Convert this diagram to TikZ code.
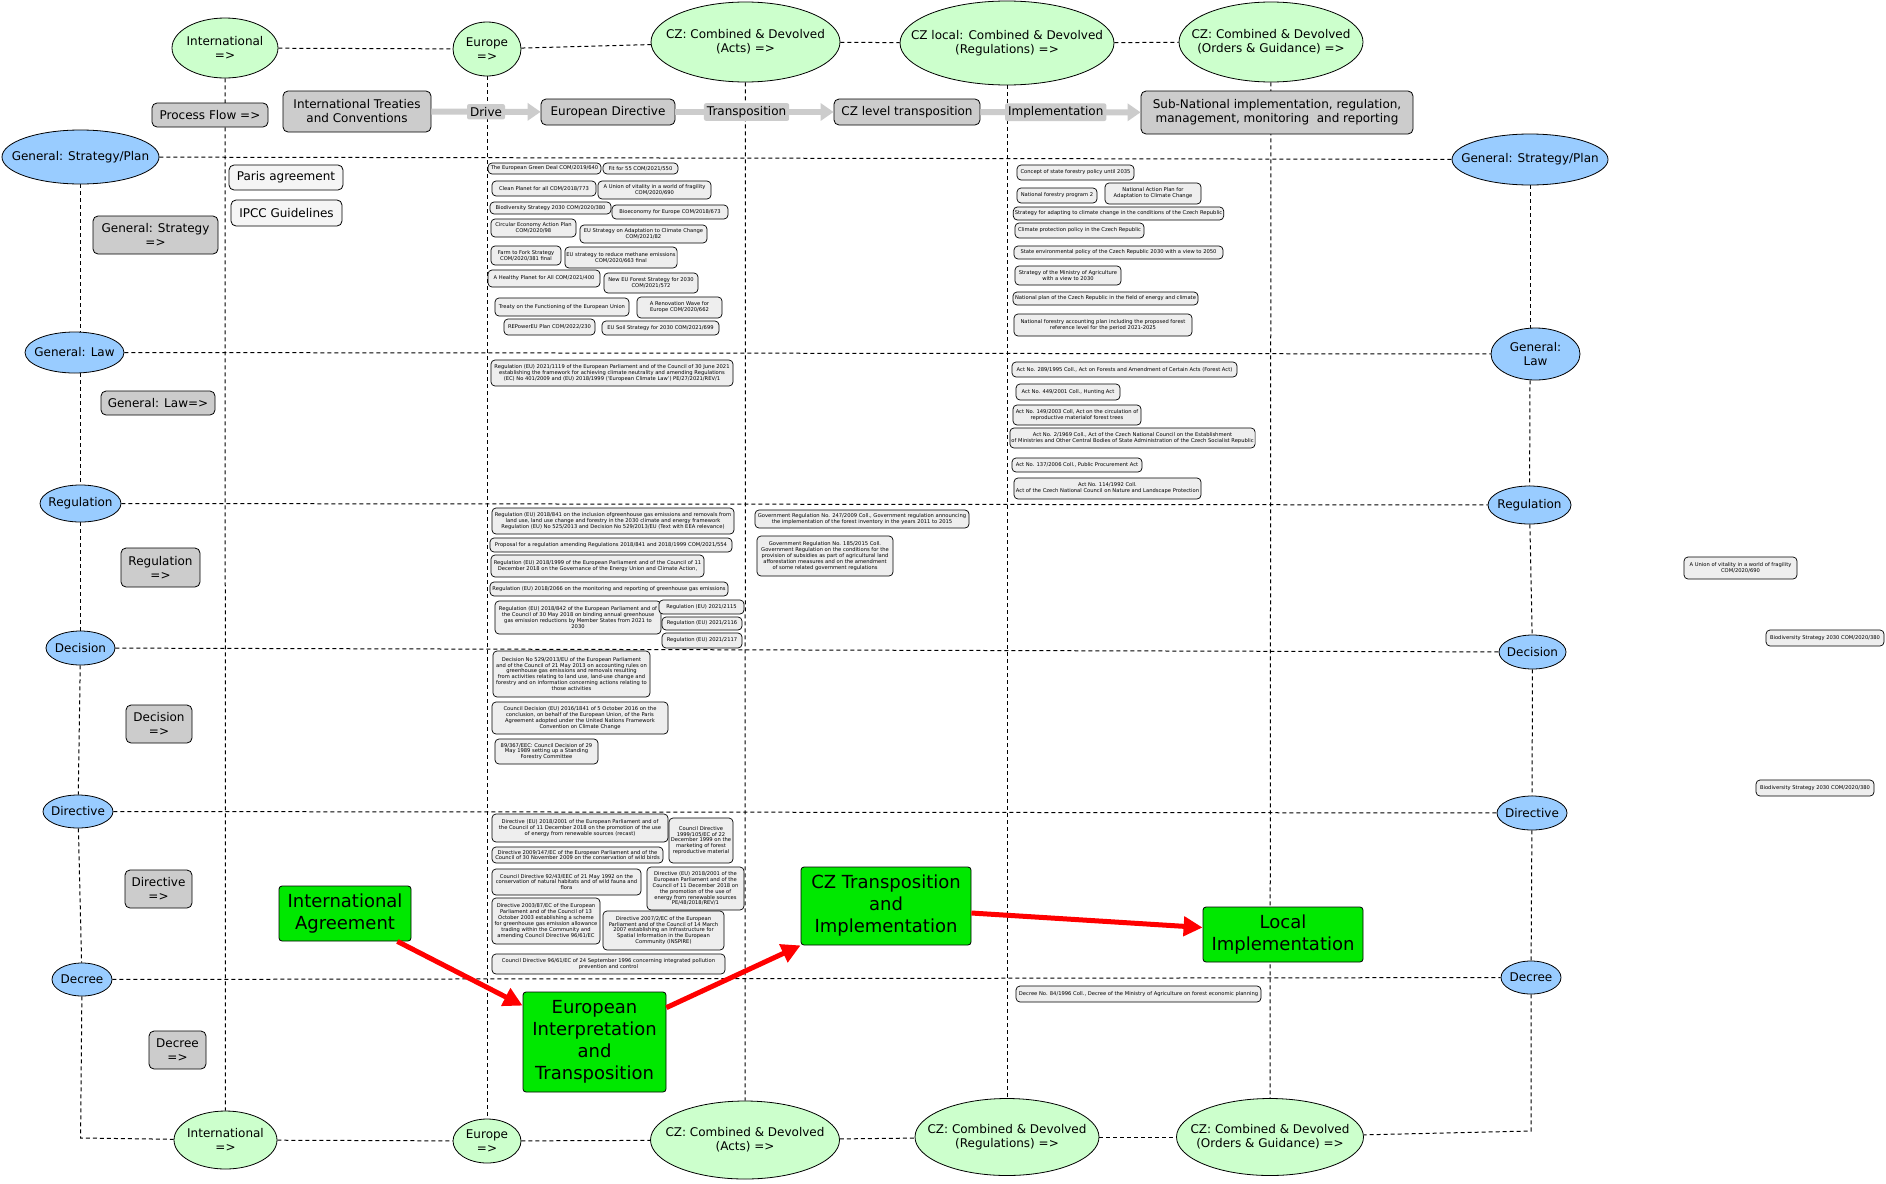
\documentclass[tikz,border=0pt]{standalone}
\usepackage{fontspec}
\setmainfont{DejaVu Sans}
\usetikzlibrary{shapes.geometric,arrows.meta,backgrounds,calc}
\definecolor{ellgreen}{HTML}{CCFFCC}
\definecolor{ellblue}{HTML}{99CCFF}
\definecolor{boxgray}{HTML}{CCCCCC}
\definecolor{smallfill}{HTML}{EEEEEE}
\definecolor{brightgreen}{HTML}{00E800}
\definecolor{arrred}{HTML}{FF0000}
\newcommand\sbx[6]{\node[sbox,minimum width=#4pt,minimum height=#5pt] (#1) at (#2,#3) {#6};}
\begin{document}
\begin{tikzpicture}[x=1pt,y=-1pt,
  ellg/.style={ellipse, draw, fill=ellgreen, line width=0.8pt, align=center, font=\fontsize{12}{14}\selectfont, inner xsep=-30pt, inner ysep=0pt},
  ellb/.style={ellipse, draw, fill=ellblue, line width=0.8pt, align=center, font=\fontsize{12}{14}\selectfont, inner xsep=-30pt, inner ysep=0pt},
  gbox/.style={draw, fill=boxgray, rounded corners=5pt, align=center, font=\fontsize{12}{14}\selectfont, line width=0.8pt, inner sep=2pt},
  wbox/.style={draw, fill=white!96!black, rounded corners=5pt, align=center, font=\fontsize{12}{14}\selectfont, line width=0.8pt, inner sep=2pt},
  sbox/.style={draw, fill=smallfill, rounded corners=4pt, align=center, font=\fontsize{5.2}{5.9}\selectfont, line width=0.7pt, inner xsep=1.5pt, inner ysep=1pt},
  grbox/.style={draw, fill=brightgreen, rounded corners=3pt, align=center, font=\fontsize{18}{22}\selectfont, line width=0.8pt, inner sep=2pt},
  dline/.style={draw=black, line width=1pt, dash pattern=on 4pt off 3pt},
  flowarrow/.style={draw=boxgray, line width=6pt, -{Triangle[length=13pt,width=17pt]}},
  flowlab/.style={fill=boxgray, font=\fontsize{12}{14}\selectfont, inner sep=3pt, rounded corners=2pt},
  redarrow/.style={draw=arrred, line width=5pt, -{Triangle[length=19pt,width=19pt]}}
]
\useasboundingbox (0,0) rectangle (1886,1183);

% ---- top ellipses
\node[ellg, minimum width=106pt, minimum height=60pt] (intT) at (225,48) {International\\=>};
\node[ellg, minimum width=68pt, minimum height=54pt] (eurT) at (487,49) {Europe\\=>};
\node[ellg, minimum width=189pt, minimum height=80pt] (czaT) at (745.5,42) {CZ: Combined \& Devolved\\(Acts) =>};
\node[ellg, minimum width=214pt, minimum height=84pt] (czlT) at (1007,43) {CZ local: Combined \& Devolved\\(Regulations) =>};
\node[ellg, minimum width=184pt, minimum height=80pt] (czoT) at (1271,42) {CZ: Combined \& Devolved\\(Orders \& Guidance) =>};

% ---- bottom ellipses
\node[ellg, minimum width=103pt, minimum height=58pt] (intB) at (225.5,1140) {International\\=>};
\node[ellg, minimum width=68pt, minimum height=44pt] (eurB) at (487,1141) {Europe\\=>};
\node[ellg, minimum width=189pt, minimum height=78pt] (czaB) at (745,1140) {CZ: Combined \& Devolved\\(Acts) =>};
\node[ellg, minimum width=184pt, minimum height=77pt] (czrB) at (1007,1137) {CZ: Combined \& Devolved\\(Regulations) =>};
\node[ellg, minimum width=187pt, minimum height=77pt] (czoB) at (1270,1137) {CZ: Combined \& Devolved\\(Orders \& Guidance) =>};

% ---- left ellipses
\node[ellb, minimum width=157pt, minimum height=54pt] (lStrat) at (80.5,157) {General: Strategy/Plan};
\node[ellb, minimum width=99pt, minimum height=41pt] (lLaw) at (74.5,352.5) {General: Law};
\node[ellb, minimum width=81pt, minimum height=37pt] (lReg) at (80.5,503.5) {Regulation};
\node[ellb, minimum width=69pt, minimum height=34pt] (lDec) at (80.5,648) {Decision};
\node[ellb, minimum width=70pt, minimum height=33pt] (lDir) at (78,811.5) {Directive};
\node[ellb, minimum width=60pt, minimum height=33pt] (lDcr) at (82,979.5) {Decree};

% ---- right ellipses
\node[ellb, minimum width=156pt, minimum height=51pt] (rStrat) at (1530,159.5) {General: Strategy/Plan};
\node[ellb, minimum width=89pt, minimum height=52pt] (rLaw) at (1535.5,354) {General:\\Law};
\node[ellb, minimum width=83pt, minimum height=38pt] (rReg) at (1529.5,505) {Regulation};
\node[ellb, minimum width=67pt, minimum height=34pt] (rDec) at (1532.5,652) {Decision};
\node[ellb, minimum width=70pt, minimum height=34pt] (rDir) at (1532,813) {Directive};
\node[ellb, minimum width=60pt, minimum height=33pt] (rDcr) at (1531,977.5) {Decree};

\coordinate (cornerL) at (80.6,1138);
\coordinate (cornerR) at (1531,1131);

% ---- process flow
\node[gbox, minimum width=116pt, minimum height=24pt] (pf) at (210,115) {Process Flow =>};
\node[gbox, minimum width=148pt, minimum height=41pt] (itc) at (357,111.5) {International Treaties\\and Conventions};
\node[gbox, minimum width=134pt, minimum height=26pt] (eud) at (608,112) {European Directive};
\node[gbox, minimum width=146pt, minimum height=26pt] (czt) at (907,112) {CZ level transposition};
\node[gbox, minimum width=272pt, minimum height=43pt] (sub) at (1277,112.5) {Sub-National implementation, regulation,\\management, monitoring\ \ and reporting};

% ---- left gray labels
\node[gbox, minimum width=125pt, minimum height=38pt] (gStrat) at (155.5,235) {General: Strategy\\=>};
\node[gbox, minimum width=114pt, minimum height=24pt] (gLaw) at (158,403) {General: Law=>};
\node[gbox, minimum width=79pt, minimum height=39pt] (gReg) at (160.5,567.5) {Regulation\\=>};
\node[gbox, minimum width=66pt, minimum height=38pt] (gDec) at (159,724) {Decision\\=>};
\node[gbox, minimum width=67pt, minimum height=38pt] (gDir) at (158.5,889) {Directive\\=>};
\node[gbox, minimum width=57pt, minimum height=38pt] (gDcr) at (177.5,1050) {Decree\\=>};

\node[wbox, minimum width=114pt, minimum height=25pt] (paris) at (286,177.5) {Paris agreement};
\node[wbox, minimum width=111pt, minimum height=26pt] (ipcc) at (286.5,213) {IPCC Guidelines};

% ---- Europe strategy
\sbx{s1}{544.5}{168.5}{113}{11}{The European Green Deal COM/2019/640}
\sbx{s2}{640.5}{168.5}{75}{11}{Fit for 55 COM/2021/550}
\sbx{s3}{544}{188.5}{104}{15}{Clean Planet for all COM/2018/773}
\sbx{s4}{654.5}{190}{113}{18}{A Union of vitality in a world of fragility\\COM/2020/690}
\sbx{s5}{550.5}{208}{121}{12}{Biodiversity Strategy 2030 COM/2020/380}
\sbx{s6}{670}{212}{116}{14}{Bioeconomy for Europe COM/2018/673}
\sbx{s7}{533.5}{228}{85}{18}{Circular Economy Action Plan\\COM/2020/98}
\sbx{s8}{643.5}{234}{127}{18}{EU Strategy on Adaptation to Climate Change\\COM/2021/82}
\sbx{s9}{526}{255.5}{70}{19}{Farm to Fork Strategy\\COM/2020/381 final}
\sbx{s10}{621}{257.5}{108}{21}{EU strategy to reduce methane emissions\\COM/2020/663 final}
\sbx{s11}{544}{278.5}{112}{17}{A Healthy Planet for All COM/2021/400}
\sbx{s12}{651}{283}{94}{20}{New EU Forest Strategy for 2030\\COM/2021/572}
\sbx{s13}{562}{307}{134}{18}{Treaty on the Functioning of the European Union}
\sbx{s14}{679.5}{307.5}{85}{21}{A Renovation Wave for\\Europe COM/2020/662}
\sbx{s15}{549.5}{327}{91}{16}{REPowerEU Plan COM/2022/230}
\sbx{s16}{660.5}{328}{117}{14}{EU Soil Strategy for 2030 COM/2021/699}

% ---- CZ strategy
\sbx{c1}{1075.5}{172.5}{117}{15}{Concept of state forestry policy until 2035}
\sbx{c2}{1057}{195.5}{80}{15}{National forestry program 2}
\sbx{c3}{1153}{193.5}{96}{21}{National Action Plan for\\Adaptation to Climate Change}
\sbx{c4}{1118.5}{213.5}{209}{13}{Strategy for adapting to climate change in the conditions of the Czech Republic}
\sbx{c5}{1079.5}{230.5}{129}{15}{Climate protection policy in the Czech Republic}
\sbx{c6}{1118.5}{252.5}{209}{13}{State environmental policy of the Czech Republic 2030 with a view to 2050}
\sbx{c7}{1068}{275.5}{106}{19}{Strategy of the Ministry of Agriculture\\with a view to 2030}
\sbx{c8}{1105.5}{298.5}{185}{13}{National plan of the Czech Republic in the field of energy and climate}
\sbx{c9}{1103}{325}{178}{22}{National forestry accounting plan including the proposed forest\\reference level for the period 2021-2025}

% ---- Law
\sbx{l1}{612}{373}{242}{26}{Regulation (EU) 2021/1119 of the European Parliament and of the Council of 30 June 2021\\establishing the framework for achieving climate neutrality and amending Regulations\\(EC) No 401/2009 and (EU) 2018/1999 (`European Climate Law') PE/27/2021/REV/1}
\sbx{a1}{1124.5}{369.5}{225}{15}{Act No. 289/1995 Coll., Act on Forests and Amendment of Certain Acts (Forest Act)}
\sbx{a2}{1068}{392}{104}{16}{Act No. 449/2001 Coll., Hunting Act}
\sbx{a3}{1077}{415}{128}{20}{Act No. 149/2003 Coll, Act on the circulation of\\reproductive materialof forest trees}
\sbx{a4}{1132.5}{438}{241}{20}{Act No. 2/1969 Coll., Act of the Czech National Council on the Establishment\\of Ministries and Other Central Bodies of State Administration of the Czech Socialist Republic}
\sbx{a5}{1077}{465}{130}{14}{Act No. 137/2006 Coll., Public Procurement Act}
\sbx{a6}{1107.5}{488.5}{187}{21}{Act No. 114/1992 Coll.\\Act of the Czech National Council on Nature and Landscape Protection}

% ---- Regulation
\sbx{r1}{613}{521}{242}{26}{Regulation (EU) 2018/841 on the inclusion ofgreenhouse gas emissions and removals from\\land use, land use change and forestry in the 2030 climate and energy framework\\Regulation (EU) No 525/2013 and Decision No 529/2013/EU (Text with EEA relevance)}
\sbx{r2}{611}{545}{242}{14}{Proposal for a regulation amending Regulations 2018/841 and 2018/1999 COM/2021/554}
\sbx{r3}{597.5}{566}{213}{22}{Regulation (EU) 2018/1999 of the European Parliament and of the Council of 11\\December 2018 on the Governance of the Energy Union and Climate Action,}
\sbx{r4}{609}{589}{238}{14}{Regulation (EU) 2018/2066 on the monitoring and reporting of greenhouse gas emissions}
\sbx{r5}{578}{617.5}{166}{33}{Regulation (EU) 2018/842 of the European Parliament and of\\the Council of 30 May 2018 on binding annual greenhouse\\gas emission reductions by Member States from 2021 to\\2030}
\sbx{r6}{701.5}{607}{85}{14}{Regulation (EU) 2021/2115}
\sbx{r7}{702}{623.5}{80}{13}{Regulation (EU) 2021/2116}
\sbx{r8}{702}{640.5}{80}{15}{Regulation (EU) 2021/2117}
\sbx{g1}{862}{519}{214}{18}{Government Regulation No. 247/2009 Coll., Government regulation announcing\\the implementation of the forest inventory in the years 2011 to 2015}
\sbx{g2}{825}{556}{136}{40}{Government Regulation No. 185/2015 Coll.\\Government Regulation on the conditions for the\\provision of subsidies as part of agricultural land\\afforestation measures and on the amendment\\of some related government regulations}

% ---- Decision
\sbx{d1}{571.5}{674}{157}{46}{Decision No 529/2013/EU of the European Parliament\\and of the Council of 21 May 2013 on accounting rules on\\greenhouse gas emissions and removals resulting\\from activities relating to land use, land-use change and\\forestry and on information concerning actions relating to\\those activities}
\sbx{d2}{580}{718}{176}{32}{Council Decision (EU) 2016/1841 of 5 October 2016 on the\\conclusion, on behalf of the European Union, of the Paris\\Agreement adopted under the United Nations Framework\\Convention on Climate Change}
\sbx{d3}{546.5}{751.5}{103}{25}{89/367/EEC: Council Decision of 29\\May 1989 setting up a Standing\\Forestry Committee}

% ---- Directive
\sbx{v1}{580}{828}{176}{28}{Directive (EU) 2018/2001 of the European Parliament and of\\the Council of 11 December 2018 on the promotion of the use\\of energy from renewable sources (recast)}
\sbx{v2}{701}{840.5}{64}{45}{Council Directive\\1999/105/EC of 22\\December 1999 on the\\marketing of forest\\reproductive material}
\sbx{v3}{577.5}{855}{171}{16}{Directive 2009/147/EC of the European Parliament and of the\\Council of 30 November 2009 on the conservation of wild birds}
\sbx{v4}{566.5}{882}{149}{26}{Council Directive 92/43/EEC of 21 May 1992 on the\\conservation of natural habitats and of wild fauna and\\flora}
\sbx{v5}{695.5}{888.5}{97}{43}{Directive (EU) 2018/2001 of the\\European Parliament and of the\\Council of 11 December 2018 on\\the promotion of the use of\\energy from renewable sources\\PE/48/2018/REV/1}
\sbx{v6}{546}{921}{108}{46}{Directive 2003/87/EC of the European\\Parliament and of the Council of 13\\October 2003 establishing a scheme\\for greenhouse gas emission allowance\\trading within the Community and\\amending Council Directive 96/61/EC}
\sbx{v7}{663.5}{930.5}{121}{39}{Directive 2007/2/EC of the European\\Parliament and of the Council of 14 March\\2007 establishing an Infrastructure for\\Spatial Information in the European\\Community (INSPIRE)}
\sbx{v8}{608.5}{964}{233}{20}{Council Directive 96/61/EC of 24 September 1996 concerning integrated pollution\\prevention and control}

% ---- Decree
\sbx{k1}{1138.5}{994}{245}{16}{Decree No. 84/1996 Coll., Decree of the Ministry of Agriculture on forest economic planning}

% ---- floating right
\sbx{f1}{1740.5}{568}{113}{22}{A Union of vitality in a world of fragility\\COM/2020/690}
\sbx{f2}{1825}{638}{118}{16}{Biodiversity Strategy 2030 COM/2020/380}
\sbx{f3}{1815}{788}{118}{16}{Biodiversity Strategy 2030 COM/2020/380}

% ---- green boxes
\node[grbox, minimum width=132pt, minimum height=55pt] (gIA) at (345,913.5) {International\\Agreement};
\node[grbox, minimum width=143pt, minimum height=100pt] (gEU) at (594.5,1042) {European\\Interpretation\\and\\Transposition};
\node[grbox, minimum width=170pt, minimum height=78pt] (gCZ) at (886,906) {CZ Transposition\\and\\Implementation};
\node[grbox, minimum width=160pt, minimum height=55pt] (gLoc) at (1283,934.5) {Local\\Implementation};

% ---- flow arrows
\draw[flowarrow] (itc) -- (eud) node[flowlab, pos=0.5] (labDrive) {Drive};
\draw[flowarrow] (eud) -- (czt) node[flowlab, pos=0.45] (labTrans) {Transposition};
\draw[flowarrow] (czt) -- (sub) node[flowlab, pos=0.47] (labImpl) {Implementation};

% ---- red arrows
\draw[redarrow] ([xshift=-14pt]gIA.south east) -- ([yshift=-14pt]gEU.north west);
\draw[redarrow] ([yshift=-16pt]gEU.north east) -- (gCZ.south west);
\draw[redarrow] ([yshift=-7pt]gCZ.east) -- ([yshift=7pt]gLoc.west);

% ---- dashed lines in background
\begin{scope}[on background layer]
\fill[white] (0,0) rectangle (1886,1183);
\draw[dline] (intT) -- (eurT);
\draw[dline] (eurT) -- (czaT);
\draw[dline] (czaT) -- (czlT);
\draw[dline] (czlT) -- (czoT);
\draw[dline] (intT) -- (intB);
\draw[dline] (eurT) -- (eurB);
\draw[dline] (czaT) -- (czaB);
\draw[dline] (czlT) -- (czrB);
\draw[dline] (czoT) -- (czoB);
\draw[dline] (lStrat) -- (rStrat);
\draw[dline] (lLaw) -- (rLaw);
\draw[dline] (lReg) -- (rReg);
\draw[dline] (lDec) -- (rDec);
\draw[dline] (lDir) -- (rDir);
\draw[dline] (lDcr) -- (rDcr);
\draw[dline] (lStrat) -- ([xshift=6pt]lLaw.north);
\draw[dline] ([xshift=6pt]lLaw.south) -- (lReg);
\draw[dline] (lReg) -- (lDec);
\draw[dline] (lDec) -- (lDir);
\draw[dline] (lDir) -- (lDcr);
\draw[dline] (lDcr) -- (cornerL) -- (intB);
\draw[dline] (rStrat) -- ([xshift=-5.5pt]rLaw.north);
\draw[dline] ([xshift=-5.5pt]rLaw.south) -- (rReg);
\draw[dline] (rReg) -- (rDec);
\draw[dline] (rDec) -- (rDir);
\draw[dline] (rDir) -- (rDcr);
\draw[dline] (rDcr) -- (cornerR) -- (czoB);
\draw[dline] (intB) -- (eurB);
\draw[dline] (eurB) -- (czaB);
\draw[dline] (czaB) -- (czrB);
\draw[dline] (czrB) -- (czoB);
\end{scope}
\end{tikzpicture}
\end{document}
